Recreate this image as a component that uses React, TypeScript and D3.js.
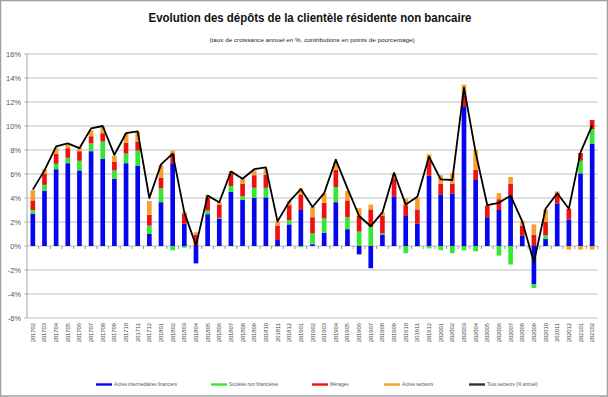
import { useEffect, useRef } from "react";
import * as d3 from "d3";

const CATEGORIES = [
  "201702", "201703", "201704", "201705", "201706", "201707", "201708", "201709", "201710", "201711", "201712",
  "201801", "201802", "201803", "201804", "201805", "201806", "201807", "201808", "201809", "201810", "201811", "201812",
  "201901", "201902", "201903", "201904", "201905", "201906", "201907", "201908", "201909", "201910", "201911", "201912",
  "202001", "202002", "202003", "202004", "202005", "202006", "202007", "202008", "202009", "202010", "202011", "202012",
  "202101", "202102",
];

// contributions (points de %)
const AUTRES_IF = [
  2.7, 4.6, 6.4, 6.9, 6.3, 7.9, 7.25, 5.6, 6.9, 6.7, 1.0,
  3.65, 6.9, 1.85, -1.45, 2.65, 2.3, 4.5, 3.85, 4.0, 4.05, 0.5, 1.8,
  3.0, 0.15, 1.1, 3.65, 1.4, -0.7, -1.85, 0.95, 4.1, 2.5, 1.85, 5.85,
  4.3, 4.35, 11.65, 5.5, 2.4, 3.0, 4.15, 0.85, -3.2, 0.6, 3.55, 2.2,
  6.05, 8.5,
];
const SNF = [
  0.3, 0.5, 0.45, 0.45, 0.8, 0.65, 1.45, 0.7, 0.8, 1.25, 0.7,
  1.15, -0.35, -0.15, 0, 0.3, 0.05, 0.5, 0.3, 0.85, 0.8, -0.05, 0.35,
  -0.1, 0.9, 1.2, 1.25, 1.0, 1.2, 1.6, 0.1, 0, -0.6, -0.05, -0.2,
  -0.35, -0.6, -0.35, -0.45, 0, -0.8, -1.55, -0.05, -0.3, 0.3, -0.05, 0,
  1.05, 1.25,
];
const MENAGES = [
  0.8, 0.95, 0.85, 0.8, 0.8, 0.6, 0.7, 0.7, 0.9, 0.75, 0.9,
  0.9, 0.8, 0.85, 0.95, 1.05, 1.1, 1.05, 1.05, 1.05, 1.1, 1.2, 1.25,
  1.3, 1.35, 1.3, 1.45, 1.4, 1.3, 1.45, 1.45, 1.55, 0.9, 1.2, 1.3,
  0.9, 0.85, 0.9, 0.85, 0.95, 0.9, 1.05, 0.85, 0.95, 1.1, 0.85, 0.9,
  0.65, 0.75,
];
const AUTRES_SECTEURS = [
  0.85, 0.35, 0.5, 0.3, 0.3, 0.5, 0.5, 0.5, 0.8, 0.8, 1.15,
  1.05, 0.25, 0.15, 0.2, 0.25, 0.2, 0.2, 0.4, 0.4, 0.45, 0.35, 0.35,
  0.5, 0.85, 0.8, 0.65, 0.8, 0.65, 0.4, 0.3, 0.4, 0.55, 0.95, 0.5,
  0.7, 0.9, 0.9, 1.65, 0, 0.5, 0.55, 0.4, 0.85, 1.05, 0.15, -0.3,
  -0.3, -0.3,
];
// taux de croissance annuel, tous secteurs
const TOTAL = [
  4.7, 6.3, 8.3, 8.55, 8.15, 9.8, 10.0, 7.6, 9.4, 9.55, 4.0,
  6.8, 7.7, 2.8, 0.05, 4.2, 3.65, 6.2, 5.6, 6.4, 6.55, 2.05, 3.7,
  4.75, 3.25, 4.4, 7.2, 4.8, 2.5, 1.65, 2.8, 6.1, 3.45, 4.1, 7.45,
  5.55, 5.5, 13.2, 7.8, 3.4, 3.6, 4.2, 2.05, -1.35, 3.1, 4.4, 3.1,
  7.8, 10.05,
];

const Y_TICKS = [-6, -4, -2, 0, 2, 4, 6, 8, 10, 12, 14, 16];

const SERIES = [
  { key: "aif", label: "Autres intermédiaires financiers", color: "#0505f0", values: AUTRES_IF },
  { key: "snf", label: "Sociétés non financières", color: "#33e833", values: SNF },
  { key: "men", label: "Ménages", color: "#ee1111", values: MENAGES },
  { key: "aut", label: "Autres secteurs", color: "#f5a02c", values: AUTRES_SECTEURS },
];
const TOTAL_LABEL = "Tous secteurs (% annuel)";

const WIDTH = 608;
const HEIGHT = 397;
const PLOT = { left: 27, right: 598, top: 54, bottom: 318 };
const BAR_RATIO = 0.4;
const LEGEND_X = [96, 211, 312, 384, 469];

type Row = { cat: string; [k: string]: number | string };

export default function App() {
  const svgRef = useRef<SVGSVGElement>(null);

  useEffect(() => {
    const svg = d3.select(svgRef.current);
    svg.selectAll("*").remove();

    const rows: Row[] = CATEGORIES.map((cat, i) => {
      const r: Row = { cat };
      SERIES.forEach((s) => (r[s.key] = s.values[i]));
      return r;
    });

    const x = d3.scaleBand().domain(CATEGORIES).range([PLOT.left, PLOT.right]);
    const y = d3.scaleLinear().domain([-6, 16]).range([PLOT.bottom, PLOT.top]);

    svg.append("rect")
      .attr("x", 0.5).attr("y", 0.5)
      .attr("width", WIDTH - 1).attr("height", HEIGHT - 1.5)
      .attr("fill", "#fff").attr("stroke", "#a0a0a0").attr("stroke-width", 1.5);

    // titles
    svg.append("text")
      .attr("x", 310).attr("y", 22)
      .attr("text-anchor", "middle")
      .attr("font-family", "Liberation Sans, Arial, sans-serif")
      .attr("font-weight", "bold").attr("font-size", 12)
      .attr("textLength", 323).attr("lengthAdjust", "spacingAndGlyphs")
      .attr("fill", "#111")
      .text("Evolution  des dépôts de la clientèle résidente non bancaire");
    svg.append("text")
      .attr("x", 312).attr("y", 42)
      .attr("text-anchor", "middle")
      .attr("font-family", "Liberation Sans, Arial, sans-serif")
      .attr("font-size", 5.5)
      .attr("textLength", 205).attr("lengthAdjust", "spacingAndGlyphs")
      .attr("fill", "#222")
      .text("(taux de croissance annuel en %, contributions en points de pourcentage)");

    // grid + y axis
    const grid = svg.append("g");
    grid.selectAll("line")
      .data(Y_TICKS)
      .join("line")
      .attr("x1", PLOT.left - 3).attr("x2", PLOT.right)
      .attr("y1", (d) => y(d)).attr("y2", (d) => y(d))
      .attr("stroke", "#bdbdbd").attr("stroke-width", 1.2);
    grid.selectAll("text")
      .data(Y_TICKS)
      .join("text")
      .attr("x", 21).attr("y", (d) => y(d) + 2.5)
      .attr("text-anchor", "end")
      .attr("font-family", "Liberation Sans, Arial, sans-serif")
      .attr("font-size", 7.5).attr("fill", "#555")
      .text((d) => `${d}%`);
    svg.append("line")
      .attr("x1", PLOT.left).attr("x2", PLOT.left)
      .attr("y1", PLOT.top).attr("y2", PLOT.bottom)
      .attr("stroke", "#a0a0a0");

    // stacked bars
    const stack = d3.stack<Row>()
      .keys(SERIES.map((s) => s.key))
      .value((d, k) => d[k] as number)
      .offset(d3.stackOffsetDiverging);
    const layers = stack(rows);
    const bw = x.bandwidth() * BAR_RATIO;
    const off = (x.bandwidth() - bw) / 2;
    svg.append("g")
      .selectAll("g")
      .data(layers)
      .join("g")
      .attr("fill", (_, i) => SERIES[i].color)
      .selectAll("rect")
      .data((d) => d)
      .join("rect")
      .attr("x", (d) => (x(d.data.cat) ?? 0) + off)
      .attr("y", (d) => y(Math.max(d[0], d[1])))
      .attr("width", bw)
      .attr("height", (d) => Math.abs(y(d[0]) - y(d[1])));

    // x axis ticks at zero
    const zero = y(0);
    svg.append("g")
      .selectAll("line")
      .data(CATEGORIES)
      .join("line")
      .attr("x1", (d) => (x(d) ?? 0) + x.bandwidth())
      .attr("x2", (d) => (x(d) ?? 0) + x.bandwidth())
      .attr("y1", zero).attr("y2", zero + 3)
      .attr("stroke", "#999");

    // x labels
    svg.append("g")
      .selectAll("text")
      .data(CATEGORIES)
      .join("text")
      .attr("transform", (d) => `translate(${(x(d) ?? 0) + x.bandwidth() / 2 + 2},323) rotate(-90)`)
      .attr("text-anchor", "end")
      .attr("font-family", "Liberation Sans, Arial, sans-serif")
      .attr("font-size", 5.8).attr("fill", "#444")
      .text((d) => d);

    // total line
    const line = d3.line<number>()
      .x((_, i) => (x(CATEGORIES[i]) ?? 0) + x.bandwidth() / 2)
      .y((d) => y(d));
    svg.append("path")
      .datum(TOTAL)
      .attr("fill", "none")
      .attr("stroke", "#000")
      .attr("stroke-width", 1.8)
      .attr("stroke-linejoin", "round")
      .attr("d", line);

    // legend
    const legendItems = [
      ...SERIES.map((s) => ({ label: s.label, color: s.color })),
      { label: TOTAL_LABEL, color: "#333" },
    ];
    const lg = svg.append("g")
      .selectAll("g")
      .data(legendItems)
      .join("g")
      .attr("transform", (_, i) => `translate(${LEGEND_X[i]},384.5)`);
    lg.append("rect")
      .attr("x", 0).attr("y", -1.2)
      .attr("width", 16).attr("height", 2.4)
      .attr("fill", (d) => d.color);
    lg.append("text")
      .attr("x", 18).attr("y", 1.6)
      .attr("font-family", "Liberation Sans, Arial, sans-serif")
      .attr("font-size", 4.5).attr("fill", "#555")
      .text((d) => d.label);
  }, []);

  return (
    <svg
      ref={svgRef}
      width={WIDTH}
      height={HEIGHT}
      style={{ position: "absolute", left: 0, top: 0, display: "block" }}
    />
  );
}
